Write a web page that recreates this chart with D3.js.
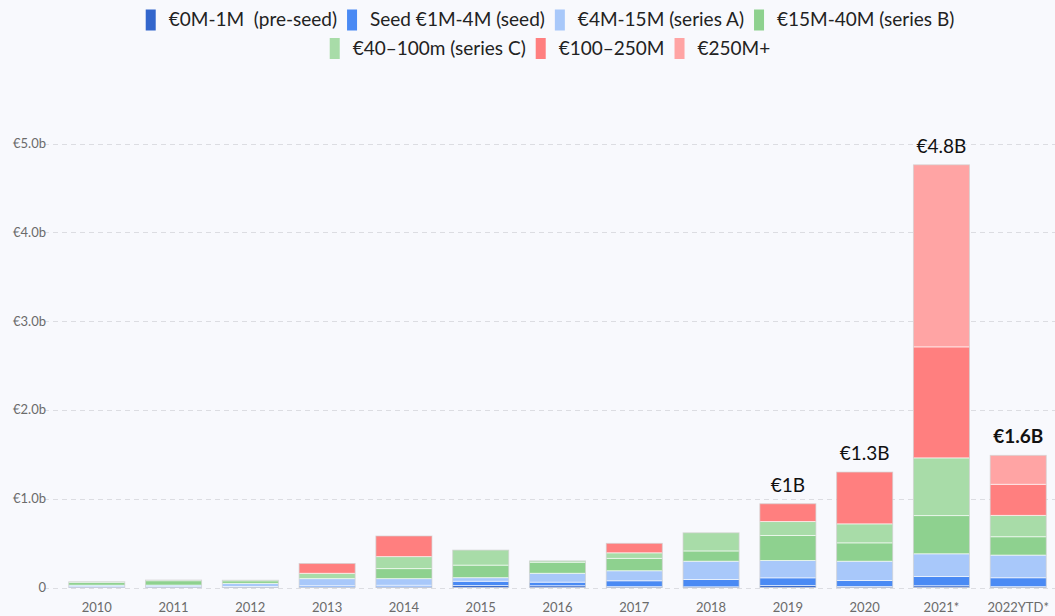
<!DOCTYPE html>
<html lang="en">
<head>
  <meta charset="UTF-8">
  <script src="https://d3js.org/d3.v7.min.js"></script>
  <title>Funding by round size</title>
  <style>
  body {
    margin:0;
    background-color:#f8f9fd;
    font-family: Lato, "Noto Sans", sans-serif;
  }
  .grid line {
    stroke:#dcdde2;
    stroke-dasharray:5,4;
  }
  .axis text {
    fill:#6b6b6b;
    font-size:13px;
  }
  .legend text {
    font-size:19px;
    fill:#222;
  }
  .total {
    font-size:19px;
    fill:#111;
  }
  </style>
</head>
<body>
  <svg id="chart" width="1055" height="616"></svg>

  <script>
  // years on the x axis
  const years = ["2010","2011","2012","2013","2014","2015","2016","2017","2018","2019","2020","2021*","2022YTD*"];

  // stack order, bottom to top
  const rounds = ["€0M-1M  (pre-seed)","Seed €1M-4M (seed)","€4M-15M (series A)","€15M-40M (series B)",
                  "€40–100m (series C)","€100–250M","€250M+"];

  // values in € billions
  const preSeed = [0.003,0.003,0.005,0.005,0.008,0.022,0.020,0.010,0.008,0.022,0.011,0.020,0.010];
  const seed    = [0.005,0.006,0.006,0.015,0.017,0.048,0.040,0.066,0.082,0.087,0.068,0.104,0.100];
  const seriesA = [0.018,0.018,0.035,0.080,0.075,0.041,0.100,0.113,0.206,0.195,0.217,0.256,0.255];
  const seriesB = [0.030,0.050,0.030,0.000,0.113,0.141,0.125,0.139,0.116,0.282,0.207,0.430,0.207];
  const seriesC = [0.008,0.007,0.006,0.060,0.135,0.169,0.015,0.063,0.204,0.157,0.214,0.650,0.240];
  const r100    = [0,0,0,0.110,0.232,0,0,0.106,0,0.200,0.583,1.250,0.350];
  const r250    = [0,0,0,0,0,0,0,0,0,0,0,2.050,0.326];

  // annotations above some bars
  const totalYears  = ["2019","2020","2021*","2022YTD*"];
  const totalLabels = ["€1B","€1.3B","€4.8B","€1.6B"];

  const yTicks = [0,1,2,3,4,5];
  const yTickLabels = ["0","€1.0b","€2.0b","€3.0b","€4.0b","€5.0b"];

  const colors = ["#3366cc","#4a8af4","#a8c8fa","#8ed18f","#a8dca8","#ff7f7f","#ffa4a4"];

  let svg = d3.select("#chart");
  let width = +svg.attr("width");

  let series = [preSeed, seed, seriesA, seriesB, seriesC, r100, r250];
  let table = years.map(function(y, i) {
    let row = {year: y};
    rounds.forEach(function(r, k) { row[r] = series[k][i]; });
    return row;
  });

  let x = d3.scaleBand()
    .domain(years)
    .range([48, 1067])
    .padding(0.27);

  let y = d3.scaleLinear()
    .domain([0, 5])
    .range([587.5, 143.5]);

  let color = d3.scaleOrdinal().domain(rounds).range(colors);

  // gridlines
  svg.append("g")
    .attr("class", "grid")
    .selectAll("line").data(yTicks)
    .enter().append("line")
    .attr("x1", 44).attr("x2", width)
    .attr("y1", d => Math.round(y(d)) + 0.5)
    .attr("y2", d => Math.round(y(d)) + 0.5);

  // y labels
  svg.append("g")
    .attr("class", "axis")
    .selectAll("text").data(yTicks)
    .enter().append("text")
    .attr("x", 46)
    .attr("y", d => y(d))
    .attr("dy", "0.35em")
    .attr("text-anchor", "end")
    .text((d, i) => yTickLabels[i]);

  // x labels
  svg.append("g")
    .attr("class", "axis")
    .selectAll("text").data(years)
    .enter().append("text")
    .attr("x", d => x(d) + x.bandwidth() / 2)
    .attr("y", 612)
    .attr("text-anchor", "middle")
    .text(d => d);

  let stacked = d3.stack().keys(rounds)(table);

  let layers = svg.append("g").selectAll("g").data(stacked)
    .enter().append("g")
    .attr("fill", d => color(d.key));

  layers.selectAll("rect").data(d => d)
    .enter().append("rect")
    .filter(d => d[1] - d[0] > 0)
    .attr("x", d => x(d.data.year))
    .attr("width", x.bandwidth())
    .attr("y", d => y(d[1]))
    .attr("height", d => y(d[0]) - y(d[1]))
    .attr("stroke", "rgba(255,255,255,0.6)")
    .attr("stroke-width", 1);

  // thin outline round each bar
  svg.append("g").selectAll("rect").data(table)
    .enter().append("rect")
    .attr("x", d => x(d.year))
    .attr("width", x.bandwidth())
    .attr("y", d => y(d3.sum(rounds, r => d[r])))
    .attr("height", d => y(0) - y(d3.sum(rounds, r => d[r])))
    .attr("fill", "none")
    .attr("stroke", "rgba(0,0,0,0.12)")
    .attr("stroke-width", 1);

  // totals
  svg.append("g").selectAll("text").data(totalYears)
    .enter().append("text")
    .attr("class", "total")
    .attr("x", d => x(d) + x.bandwidth() / 2)
    .attr("y", function(d) {
      let row = table[years.indexOf(d)];
      return y(d3.sum(rounds, r => row[r])) - 12;
    })
    .attr("text-anchor", "middle")
    .style("font-weight", (d, i) => i == 3 ? "bold" : "normal")
    .text((d, i) => totalLabels[i]);

  // legend, two centred rows
  let legendRows = [rounds.slice(0, 4), rounds.slice(4)];
  let legend = svg.append("g").attr("class", "legend");
  legendRows.forEach(function(row, ri) {
    let g = legend.append("g");
    let cx = 0;
    row.forEach(function(r) {
      let item = g.append("g").attr("transform", "translate(" + cx + ",0)");
      item.append("rect")
        .attr("x", 0).attr("y", -10)
        .attr("width", 10).attr("height", 21)
        .attr("fill", color(r));
      let t = item.append("text")
        .attr("x", 23).attr("y", 0)
        .attr("dy", "0.35em")
        .style("white-space", "pre")
        .text(r);
      cx += 23 + t.node().getComputedTextLength() + 10;
    });
    let rowWidth = cx - 10;
    g.attr("transform", "translate(" + (550 - rowWidth / 2) + "," + (19.5 + ri * 28.5) + ")");
  });
  </script>
</body>
</html>
